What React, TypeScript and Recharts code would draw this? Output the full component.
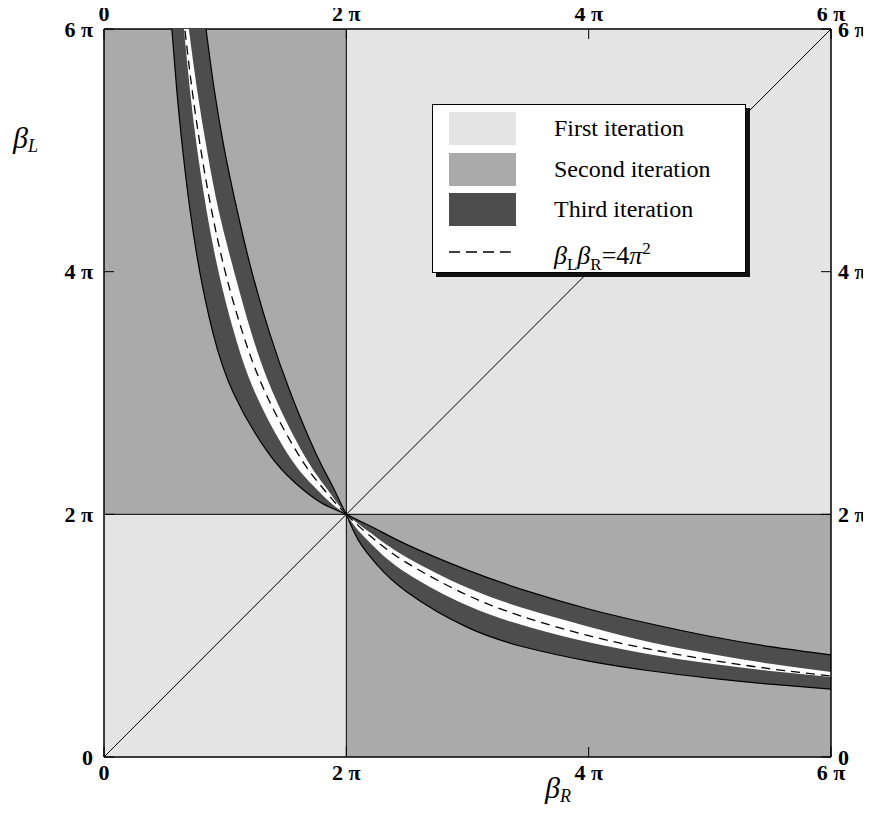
import { Area, ComposedChart, Line, ReferenceArea, ReferenceLine, XAxis, YAxis } from "recharts";

// everything is in units of π: 2 means 2π
const W = 871;
const H = 817;

// samples along β_R (lower-right band); the upper-left band is the same data mirrored
const bandX = [2, 2.1, 2.25, 2.5, 3, 3.5, 4, 4.5, 5, 5.5, 6];
const outerHigh = [2, 1.95, 1.877, 1.75, 1.54, 1.365, 1.22, 1.1, 0.995, 0.91, 0.842];
const innerHigh = [2, 1.92, 1.81, 1.645, 1.395, 1.215, 1.074, 0.947, 0.85, 0.768, 0.7];
const innerLow = [2, 1.865, 1.713, 1.515, 1.248, 1.073, 0.945, 0.847, 0.77, 0.709, 0.66];
const outerLow = [2, 1.785, 1.588, 1.36, 1.068, 0.898, 0.79, 0.711, 0.65, 0.6, 0.56];
const hyperbola = [2, 1.905, 1.778, 1.6, 1.333, 1.143, 1, 0.889, 0.8, 0.727, 0.667];

const tickValues = [0, 2, 4, 6];
const tickLabels = ["0", "2 π", "4 π", "6 π"];

const legendLabels = ["First iteration", "Second iteration", "Third iteration"];
const legendColors = ["#e4e4e4", "#aaaaaa", "#4d4d4d"];

const rows = bandX.map((x, i) => ({
  x,
  outer: [outerLow[i], outerHigh[i]],
  inner: [innerLow[i], innerHigh[i]],
  dash: hyperbola[i],
}));

const axisLine = { stroke: "#000", strokeWidth: 1.5 };
const tickLine = { stroke: "#000", strokeWidth: 1 };

function Tick(props: any) {
  const { x, y, payload, textAnchor, verticalAnchor } = props;
  const dy = verticalAnchor === "start" ? "0.7em" : verticalAnchor === "middle" ? "0.35em" : 0;
  const label = tickLabels[tickValues.indexOf(payload.value)] ?? String(payload.value);
  return (
    <text
      x={x}
      y={y}
      dy={dy}
      textAnchor={textAnchor}
      fill="#000"
      fontSize={22}
      fontWeight="bold"
      fontFamily="Liberation Serif"
    >
      {label}
    </text>
  );
}

function Bands() {
  return [
    <Area
      key="outer"
      dataKey="outer"
      type="natural"
      fill={legendColors[2]}
      fillOpacity={1}
      stroke="#000"
      strokeWidth={1.2}
      dot={false}
      activeDot={false}
      isAnimationActive={false}
    />,
    <Area
      key="inner"
      dataKey="inner"
      type="natural"
      fill="#fff"
      fillOpacity={1}
      stroke="none"
      dot={false}
      activeDot={false}
      isAnimationActive={false}
    />,
    <Line
      key="dash"
      dataKey="dash"
      type="natural"
      stroke="#000"
      strokeWidth={1.3}
      strokeDasharray="9 6"
      dot={false}
      activeDot={false}
      isAnimationActive={false}
    />,
  ];
}

export default function App() {
  return (
    <div style={{ position: "relative", width: W, height: H, margin: -8 }}>
      <ComposedChart width={W} height={H} data={rows} margin={{ top: 0, left: 44, right: 0, bottom: 20 }}>
        <XAxis
          dataKey="x"
          type="number"
          domain={[0, 6]}
          ticks={tickValues}
          allowDataOverflow
          height={40}
          tickSize={-10}
          tickMargin={18}
          tick={<Tick />}
          axisLine={axisLine}
          tickLine={tickLine}
        />
        <XAxis
          xAxisId="top"
          dataKey="x"
          orientation="top"
          type="number"
          domain={[0, 6]}
          ticks={tickValues}
          allowDataOverflow
          height={29}
          tickSize={-10}
          tickMargin={18}
          tick={<Tick />}
          axisLine={axisLine}
          tickLine={tickLine}
        />
        <YAxis
          type="number"
          domain={[0, 6]}
          ticks={tickValues}
          allowDataOverflow
          width={60}
          tickSize={-10}
          tickMargin={21}
          tick={<Tick />}
          axisLine={axisLine}
          tickLine={tickLine}
        />
        <YAxis
          yAxisId="right"
          orientation="right"
          type="number"
          domain={[0, 6]}
          ticks={tickValues}
          allowDataOverflow
          width={40}
          tickSize={-10}
          tickMargin={17}
          tick={<Tick />}
          axisLine={axisLine}
          tickLine={tickLine}
        />
        <ReferenceArea x1={0} x2={6} y1={0} y2={6} fill={legendColors[0]} fillOpacity={1} stroke="none" />
        <ReferenceArea x1={0} x2={2} y1={2} y2={6} fill={legendColors[1]} fillOpacity={1} stroke="none" />
        <ReferenceArea x1={2} x2={6} y1={0} y2={2} fill={legendColors[1]} fillOpacity={1} stroke="none" />
        <ReferenceLine x={2} stroke="#000" strokeWidth={1} />
        <ReferenceLine y={2} stroke="#000" strokeWidth={1} />
        <ReferenceLine
          segment={[
            { x: 0, y: 0 },
            { x: 6, y: 6 },
          ]}
          stroke="#000"
          strokeWidth={1}
        />
        {Bands()}
      </ComposedChart>

      {/* upper-left band: same samples with the axes swapped */}
      <ComposedChart
        layout="vertical"
        width={W}
        height={H}
        data={rows}
        margin={{ top: 29, left: 104, right: 40, bottom: 60 }}
        style={{ position: "absolute", left: 0, top: 0 }}
      >
        <XAxis type="number" domain={[0, 6]} allowDataOverflow hide />
        <YAxis type="number" dataKey="x" domain={[0, 6]} allowDataOverflow reversed hide />
        {Bands()}
      </ComposedChart>

      <svg width={W} height={H} style={{ position: "absolute", left: 0, top: 0, pointerEvents: "none" }}>
        <text x={13} y={148} fontFamily="Liberation Serif" fontStyle="italic" fontSize={30}>
          β<tspan fontSize={18} dy={4}>L</tspan>
        </text>
        <text x={545} y={798} fontFamily="Liberation Serif" fontStyle="italic" fontSize={30}>
          β<tspan fontSize={18} dy={4}>R</tspan>
        </text>
      </svg>

      <div
        style={{
          position: "absolute",
          left: 432,
          top: 104,
          width: 312,
          height: 167,
          border: "1px solid #000",
          background: "#fff",
          boxShadow: "4px 4px 0 #111",
          fontFamily: "Liberation Serif",
          fontSize: 24,
        }}
      >
        {legendLabels.map((label, i) => (
          <div key={label}>
            <div
              style={{
                position: "absolute",
                left: 16,
                top: 7 + i * 40.5,
                width: 67,
                height: 33,
                background: legendColors[i],
              }}
            />
            <div style={{ position: "absolute", left: 121, top: 9 + i * 40.5, lineHeight: "28px", whiteSpace: "nowrap" }}>
              {label}
            </div>
          </div>
        ))}
        <svg width={70} height={6} style={{ position: "absolute", left: 16, top: 144 }}>
          <line x1={0} y1={3} x2={67} y2={3} stroke="#000" strokeWidth={1.3} strokeDasharray="11 6" />
        </svg>
        <div style={{ position: "absolute", left: 121, top: 130, lineHeight: "28px", whiteSpace: "nowrap", fontSize: 26 }}>
          <i>β</i>
          <sub style={{ fontSize: 17 }}>L</sub>
          <i>β</i>
          <sub style={{ fontSize: 17 }}>R</sub>=4<i>π</i>
          <sup style={{ fontSize: 17 }}>2</sup>
        </div>
      </div>
    </div>
  );
}
